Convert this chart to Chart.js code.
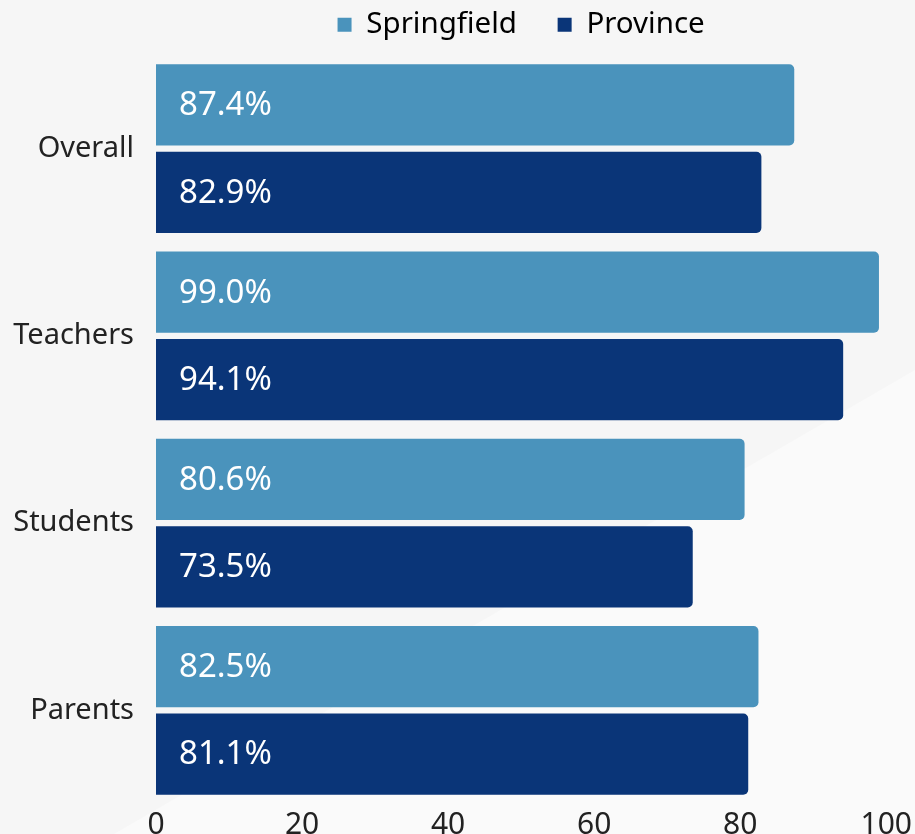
<!DOCTYPE html>
<html>
<head>
<meta charset="utf-8">
<script src="https://cdn.jsdelivr.net/npm/chart.js@4/dist/chart.umd.min.js"></script>
<style>
  html, body { margin: 0; padding: 0; overflow: hidden; }
  body { width: 915px; height: 834px; background: #f6f6f6; position: relative; }
  #shade {
    position: absolute; left: 0; top: 0; width: 915px; height: 834px;
    background: #fafafa;
    clip-path: polygon(114px 834px, 915px 370px, 915px 834px);
  }
  #wrap { position: absolute; left: 0; top: 0; width: 915px; height: 860px; }
</style>
</head>
<body>
<div id="shade"></div>
<div id="wrap"><canvas id="barChart" width="915" height="860"></canvas></div>
<script>
const groups = ['Overall', 'Teachers', 'Students', 'Parents'];
const springfield = [87.4, 99.0, 80.6, 82.5];
const province = [82.9, 94.1, 73.5, 81.1];
const xTicks = [0, 20, 40, 60, 80, 100];

const FONT = "'Noto Sans', 'Open Sans', sans-serif";

// white value labels just inside the start of each bar
const valueLabels = {
    id: 'valueLabels',
    afterInit(chart) {
        // keep the legend band a fixed height so the plot starts where the original does
        const lg = chart.legend;
        if (!lg) return;
        const fit = lg.fit.bind(lg);
        lg.fit = function () { fit(); this.height = 55; };
    },
    afterDatasetsDraw(chart) {
        const ctx = chart.ctx;
        ctx.save();
        ctx.fillStyle = '#ffffff';
        ctx.font = '33px ' + FONT;
        ctx.textAlign = 'left';
        ctx.textBaseline = 'middle';
        chart.data.datasets.forEach((ds, i) => {
            chart.getDatasetMeta(i).data.forEach((bar, j) => {
                ctx.fillText(ds.data[j].toFixed(1) + '%', bar.base + 23, bar.y + 1);
            });
        });
        ctx.restore();
    }
};

const ctx = document.getElementById('barChart').getContext('2d');
new Chart(ctx, {
    type: 'bar',
    data: {
        labels: groups,
        datasets: [
            {
                label: 'Springfield',
                data: springfield,
                backgroundColor: '#4a93bc',
                borderRadius: 5,
                borderSkipped: 'start'
            },
            {
                label: 'Province',
                data: province,
                backgroundColor: '#0a3578',
                borderRadius: 5,
                borderSkipped: 'start'
            }
        ]
    },
    options: {
        indexAxis: 'y',
        responsive: false,
        animation: false,
        categoryPercentage: 0.933,
        barPercentage: 0.93,
        layout: { padding: { top: 0, right: 28, left: 0, bottom: 0 } },
        scales: {
            x: {
                min: 0,
                max: 100,
                afterBuildTicks: (axis) => { axis.ticks = xTicks.map(v => ({ value: v })); },
                grid: { display: false, drawTicks: false },
                border: { display: false },
                ticks: { color: '#222', padding: 3, font: { family: FONT, size: 30 } },
                afterFit: (axis) => { axis.height = 56; }
            },
            y: {
                grid: { display: false, drawTicks: false },
                border: { display: false },
                ticks: { color: '#222', padding: 22, font: { family: FONT, size: 29 } },
                afterFit: (axis) => { axis.width = 156; }
            }
        },
        plugins: {
            legend: {
                display: true,
                position: 'top',
                fullSize: false,
                labels: {
                    color: '#222',
                    boxWidth: 14,
                    boxHeight: 14,
                    padding: 10,
                    font: { family: FONT, size: 29.5 },
                    generateLabels: (chart) => chart.data.datasets.map((ds, i) => ({
                        text: i === 0 ? ds.label + '    ' : ds.label,
                        fillStyle: ds.backgroundColor,
                        strokeStyle: ds.backgroundColor,
                        lineWidth: 0,
                        datasetIndex: i,
                        hidden: false
                    }))
                }
            },
            tooltip: { enabled: false }
        }
    },
    plugins: [valueLabels]
});
</script>
</body>
</html>
